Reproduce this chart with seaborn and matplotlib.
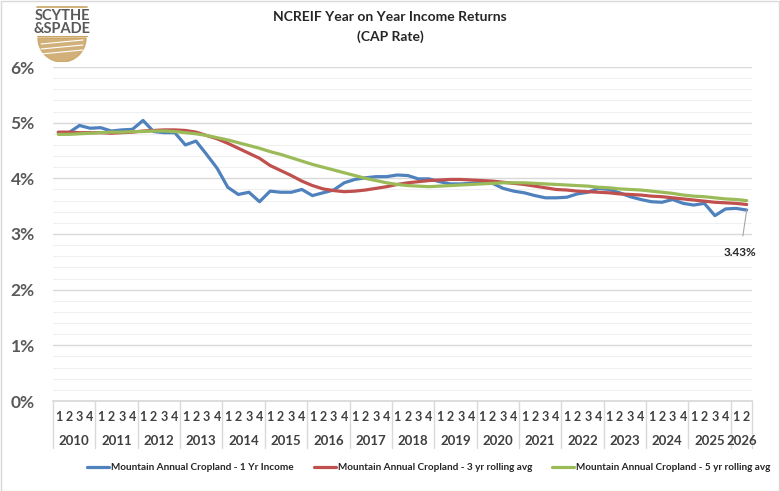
import numpy as np
import pandas as pd
import matplotlib.pyplot as plt
import matplotlib.transforms as mtransforms
from matplotlib.patches import Rectangle, Wedge
import seaborn as sns

# dados (trimestral, 2010 T1 ate 2026 T2)
years = list(range(2010, 2027))
quarter_labels = ['1', '2', '3', '4'] * 16 + ['1', '2']
series_names = ['Mountain Annual Cropland - 1 Yr Income',
                'Mountain Annual Cropland - 3 yr rolling avg',
                'Mountain Annual Cropland - 5 yr rolling avg']

one_yr = [4.82, 4.82, 4.95, 4.90, 4.91, 4.85, 4.87, 4.88,
          5.04, 4.84, 4.82, 4.82, 4.60, 4.67, 4.43, 4.18,
          3.84, 3.71, 3.75, 3.58, 3.77, 3.75, 3.75, 3.80,
          3.69, 3.74, 3.79, 3.92, 3.98, 4.01, 4.03, 4.03,
          4.06, 4.05, 3.99, 3.99, 3.94, 3.90, 3.90, 3.91,
          3.93, 3.91, 3.82, 3.77, 3.74, 3.69, 3.65, 3.65,
          3.66, 3.72, 3.75, 3.82, 3.80, 3.74, 3.67, 3.62,
          3.58, 3.57, 3.62, 3.55, 3.52, 3.55, 3.33, 3.45,
          3.46, 3.43]
three_yr = [4.83, 4.83, 4.82, 4.82, 4.82, 4.81, 4.82, 4.83,
            4.85, 4.86, 4.87, 4.87, 4.86, 4.83, 4.77, 4.71,
            4.63, 4.54, 4.45, 4.36, 4.23, 4.14, 4.05, 3.95,
            3.87, 3.81, 3.78, 3.76, 3.77, 3.79, 3.82, 3.85,
            3.89, 3.92, 3.94, 3.96, 3.97, 3.98, 3.98, 3.97,
            3.96, 3.95, 3.93, 3.91, 3.89, 3.86, 3.83, 3.80,
            3.79, 3.77, 3.76, 3.75, 3.74, 3.72, 3.71, 3.70,
            3.68, 3.67, 3.65, 3.63, 3.61, 3.59, 3.57, 3.56,
            3.55, 3.53]
five_yr = [4.79, 4.79, 4.80, 4.81, 4.82, 4.83, 4.83, 4.84,
           4.84, 4.85, 4.85, 4.84, 4.82, 4.80, 4.77, 4.73,
           4.69, 4.64, 4.59, 4.54, 4.48, 4.43, 4.37, 4.31,
           4.25, 4.20, 4.15, 4.10, 4.05, 4.00, 3.96, 3.92,
           3.89, 3.87, 3.86, 3.85, 3.86, 3.87, 3.88, 3.89,
           3.90, 3.91, 3.92, 3.92, 3.92, 3.91, 3.90, 3.89,
           3.88, 3.87, 3.86, 3.84, 3.83, 3.81, 3.80, 3.79,
           3.77, 3.75, 3.73, 3.70, 3.68, 3.67, 3.65, 3.63,
           3.62, 3.60]
last_label = '3.43%'

cores = ['#4F81BD', '#C0504D', '#9BBB59']
gold = '#C9A462'

n = len(one_yr)
df = pd.DataFrame({
    'q': list(range(n)) * 3,
    'rate': one_yr + three_yr + five_yr,
    'series': [series_names[0]] * n + [series_names[1]] * n + [series_names[2]] * n,
})

sns.set_theme(style='white')
plt.rcParams['font.family'] = ['Lato', 'DejaVu Sans']

fig = plt.figure(figsize=(7.8, 4.91), dpi=100)
ax = fig.add_axes([53 / 780, 1 - 401 / 491, (752 - 53) / 780, (401 - 67) / 491])

sns.lineplot(data=df, x='q', y='rate', hue='series', palette=cores,
             linewidth=2.3, ax=ax)

ax.set_xlim(-0.5, n - 0.5)
ax.set_ylim(0, 6)
ax.set_xlabel('')
ax.set_ylabel('')

# eixo y
ax.set_yticks(range(0, 7))
ax.set_yticklabels([f'{v}%' for v in range(0, 7)])
ax.set_yticks(np.arange(0, 6.01, 0.2), minor=True)
ax.grid(which='major', axis='y', color='#D9D9D9', lw=1.0)
ax.grid(which='minor', axis='y', color='#F0F0F0', lw=0.8)
ax.grid(False, axis='x')
ax.set_axisbelow(True)
ax.tick_params(axis='y', which='both', length=0, pad=13, labelsize=12.5,
               labelcolor='#595959')
for t in ax.get_yticklabels():
    t.set_fontweight('bold')
for s in ['top', 'right', 'left']:
    ax.spines[s].set_visible(False)
ax.spines['bottom'].set_color('#D9D9D9')

# eixo x: trimestres + anos
ax.set_xticks(range(n))
ax.set_xticklabels(quarter_labels)
ax.tick_params(axis='x', length=0, pad=7, labelsize=9, labelcolor='#404040')
for t in ax.get_xticklabels():
    t.set_fontweight('bold')

trans = mtransforms.blended_transform_factory(ax.transData, ax.transAxes)
for k, yr in enumerate(years):
    q_in_year = min(4, n - 4 * k)
    centro = 4 * k + (q_in_year - 1) / 2
    ax.text(centro, -0.12, str(yr), transform=trans, ha='center', va='center',
            fontsize=9.5, fontweight='bold', color='#404040')
bordas = [-0.5] + [4 * k + 3.5 for k in range(16)] + [n - 0.5]
for b in bordas:
    ax.plot([b, b], [0, -0.141], transform=trans, color='#D9D9D9', lw=1,
            clip_on=False)

# rotulo do ultimo ponto
ax.annotate(last_label, xy=(n - 1, one_yr[-1]), xytext=(n - 1.6, 2.66),
            ha='center', va='center', fontsize=8.5, fontweight='bold',
            color='#262626',
            arrowprops=dict(arrowstyle='-', color='#A6A6A6', lw=0.8,
                            shrinkA=6, shrinkB=0))

# legenda
sns.move_legend(ax, 'center', bbox_to_anchor=(0.5 + 39 / 780, 1 - 468 / 491),
                bbox_transform=fig.transFigure, ncol=3, frameon=False,
                title=None, handlelength=2.2, handletextpad=0.2,
                columnspacing=2.0, fontsize=7.2)
for t in ax.get_legend().get_texts():
    t.set_fontweight('bold')
    t.set_color('#262626')

# titulo
fig.text(0.5, 1 - 17 / 491, 'NCREIF Year on Year Income Returns', ha='center',
         va='center', fontsize=10, fontweight='bold', color='#262626')
fig.text(0.5, 1 - 37 / 491, '(CAP Rate)', ha='center', va='center',
         fontsize=10, fontweight='bold', color='#262626')

# logo
lg = fig.add_axes([33 / 780, 1 - 62 / 491, 58 / 780, 58 / 491])
lg.set_xlim(0, 58)
lg.set_ylim(58, 0)
lg.axis('off')
lg.plot([4, 54], [3, 3], color=gold, lw=1.2)
lg.text(29, 12, 'SCYTHE', ha='center', va='center', fontsize=10.5,
        fontweight='bold', color='#595959')
lg.text(29, 25, '&SPADE', ha='center', va='center', fontsize=10.5,
        fontweight='bold', color='#595959')
lg.plot([4, 54], [32, 32], color=gold, lw=0.8)
lg.add_patch(Wedge((29, 34), 24, 0, 180, color=gold, alpha=0.85))
for yy in [40, 45, 50]:
    lg.plot([8, 50], [yy, yy - 4], color='white', lw=0.8)

fig.patches.append(Rectangle((0.001, 0.001), 0.998, 0.997,
                             transform=fig.transFigure, fill=False,
                             edgecolor='#D9D9D9', lw=1))

fig.savefig('out.png', dpi=100)
